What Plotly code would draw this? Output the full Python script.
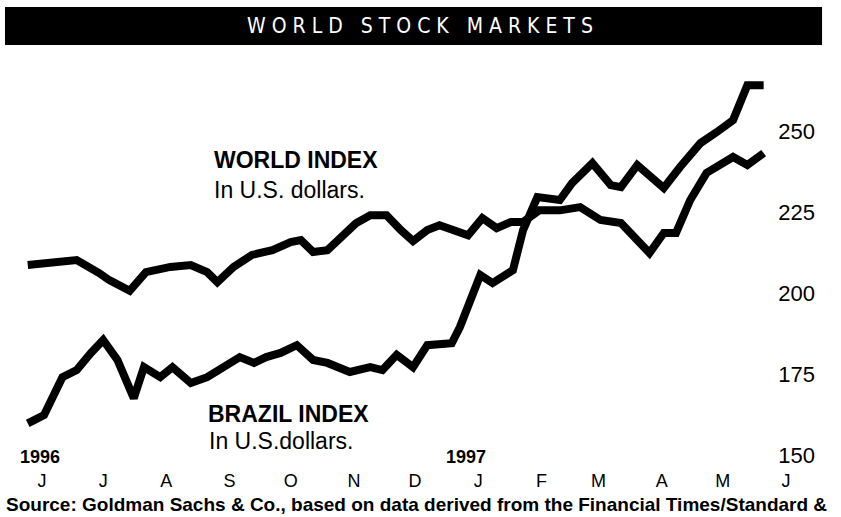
import plotly.graph_objects as go

# ---- data ----
world_dates = ["1996-06-08", "1996-07-02", "1996-07-13", "1996-07-18", "1996-07-28", "1996-08-05",
               "1996-08-17", "1996-08-27", "1996-09-04", "1996-09-09", "1996-09-17", "1996-09-26",
               "1996-10-06", "1996-10-15", "1996-10-20", "1996-10-26", "1996-11-02", "1996-11-10",
               "1996-11-16", "1996-11-23", "1996-12-01", "1996-12-08", "1996-12-14", "1996-12-21",
               "1996-12-27", "1997-01-10", "1997-01-17", "1997-01-24", "1997-01-31", "1997-02-06",
               "1997-02-14", "1997-02-24", "1997-03-06", "1997-03-16", "1997-03-26", "1997-04-09",
               "1997-04-16", "1997-04-22", "1997-04-29", "1997-05-07", "1997-05-20", "1997-05-27",
               "1997-06-04"]
world_values = [208.8, 210.3, 206.3, 204.1, 200.8, 206.6,
                208.2, 208.8, 206.6, 203.5, 208.2, 211.9,
                213.4, 215.9, 216.5, 212.8, 213.4, 218.6,
                221.7, 224.2, 224.2, 219.6, 216.2, 219.6,
                221.1, 218.0, 223.3, 220.2, 222.1, 222.1,
                225.7, 225.7, 226.7, 222.7, 221.8, 212.5,
                218.7, 218.7, 228.9, 237.3, 242.2, 239.7,
                243.4]

brazil_dates = ["1996-06-08", "1996-06-16", "1996-06-25", "1996-07-02", "1996-07-09", "1996-07-15",
                "1996-07-22", "1996-07-30", "1996-08-04", "1996-08-12", "1996-08-18", "1996-08-27",
                "1996-09-04", "1996-09-20", "1996-09-27", "1996-10-03", "1996-10-10", "1996-10-18",
                "1996-10-26", "1996-11-02", "1996-11-13", "1996-11-23", "1996-11-29", "1996-12-06",
                "1996-12-14", "1996-12-21", "1997-01-02", "1997-01-06", "1997-01-16", "1997-01-22",
                "1997-02-01", "1997-02-06", "1997-02-13", "1997-02-24", "1997-03-02", "1997-03-12",
                "1997-03-21", "1997-03-26", "1997-04-03", "1997-04-16", "1997-04-24", "1997-05-04",
                "1997-05-12", "1997-05-20", "1997-05-27", "1997-06-04"]
brazil_values = [159.8, 162.4, 174.1, 176.3, 181.6, 185.6,
                 179.4, 167.6, 177.2, 174.1, 177.2, 172.3,
                 174.1, 180.3, 178.5, 180.3, 181.6, 184.0,
                 179.4, 178.5, 175.7, 177.2, 176.3, 181.0,
                 177.2, 184.0, 184.6, 189.6, 205.7, 203.2,
                 207.2, 219.6, 229.8, 228.9, 234.1, 240.3,
                 233.5, 232.9, 239.7, 232.6, 239.1, 246.5,
                 249.9, 253.6, 264.4, 264.4]

month_ticks = ["1996-06-15", "1996-07-15", "1996-08-15", "1996-09-15", "1996-10-15", "1996-11-15",
               "1996-12-15", "1997-01-15", "1997-02-15", "1997-03-15", "1997-04-15", "1997-05-15",
               "1997-06-15"]
month_labels = ["J", "J", "A", "S", "O", "N", "D", "J", "F", "M", "A", "M", "J"]
y_ticks = [150, 175, 200, 225, 250]

FONT = "Liberation Sans, Arial, Helvetica, sans-serif"

fig = go.Figure()
fig.add_trace(go.Scatter(x=world_dates, y=world_values, mode="lines",
                         line=dict(color="#000000", width=8), name="World index",
                         hoverinfo="x+y"))
fig.add_trace(go.Scatter(x=brazil_dates, y=brazil_values, mode="lines",
                         line=dict(color="#000000", width=8), name="Brazil index",
                         hoverinfo="x+y"))

fig.update_layout(
    width=841, height=517,
    margin=dict(l=10, r=23, t=60, b=49),
    paper_bgcolor="white", plot_bgcolor="white",
    showlegend=False,
    font=dict(family=FONT, color="#000000"),
    xaxis=dict(type="date", range=["1996-05-30 07:00", "1997-06-30 16:00"],
               tickvals=month_ticks, ticktext=month_labels,
               showgrid=False, zeroline=False, showline=False, ticks="",
               ticklabeloverflow="allow",
               tickfont=dict(size=18, family=FONT, color="#000000")),
    yaxis=dict(range=[146.0, 272.2], side="right", ticklabelposition="inside",
               tickvals=y_ticks, ticktext=[str(v) for v in y_ticks],
               showgrid=False, zeroline=False, showline=False, ticks="",
               ticklabeloverflow="allow",
               tickfont=dict(size=22, family=FONT, color="#000000")),
)

# title bar
fig.add_shape(type="rect", xref="paper", yref="paper",
              x0=-0.0062, x1=1.005, y0=1.0368, y1=1.1299,
              fillcolor="#000000", line=dict(width=0), layer="above")

annotations = [
    dict(text="W O R L D   S T O C K   M A R K E T S", x=0.5074, y=1.0833,
         xanchor="center", yanchor="middle",
         font=dict(size=21, color="white", family="DejaVu Sans Condensed, Liberation Sans Narrow, sans-serif")),
    dict(text="<b>WORLD INDEX</b>", x=0.25, y=0.755, xanchor="left", yanchor="middle",
         font=dict(size=23, family=FONT)),
    dict(text="In U.S. dollars.", x=0.25, y=0.681, xanchor="left", yanchor="middle",
         font=dict(size=23, family=FONT)),
    dict(text="<b>BRAZIL INDEX</b>", x=0.2426, y=0.132, xanchor="left", yanchor="middle",
         font=dict(size=23, family=FONT)),
    dict(text="In U.S.dollars.", x=0.2438, y=0.066, xanchor="left", yanchor="middle",
         font=dict(size=23, family=FONT)),
    dict(text="<b>1996</b>", x=0.037, y=0.027, xanchor="center", yanchor="middle",
         font=dict(size=18, family=FONT)),
    dict(text="<b>1997</b>", x=0.564, y=0.027, xanchor="center", yanchor="middle",
         font=dict(size=18, family=FONT)),
    dict(text="<b>Source: Goldman Sachs & Co., based on data derived from the Financial Times/Standard &</b>",
         x=-0.0074, y=-0.1195, xanchor="left", yanchor="bottom",
         font=dict(size=19, family=FONT)),
]
for a in annotations:
    a.update(xref="paper", yref="paper", showarrow=False)
    fig.add_annotation(**a)

fig.write_html("out.html",
               config={"displayModeBar": False},
               post_script="document.body.style.margin='0';document.body.style.padding='0';")
